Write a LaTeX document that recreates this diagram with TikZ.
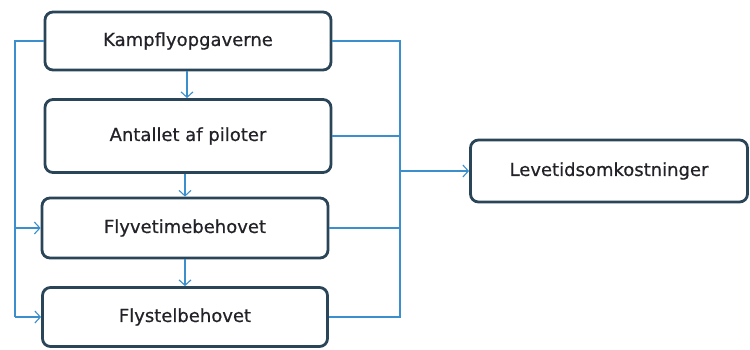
\documentclass[tikz,border=0pt]{standalone}
\usepackage{fontspec}
\newfontfamily\boxfont{DejaVu Sans}[FakeBold=0.6]
\usetikzlibrary{arrows.meta}
\definecolor{boxline}{HTML}{2A4558}
\definecolor{conn}{HTML}{3A8FCC}
\definecolor{txt}{HTML}{222228}
\tikzset{
  box/.style={draw=boxline, line width=2.8pt, rounded corners=8pt, fill=white,
    inner sep=0pt, font=\boxfont\fontsize{18}{21}\selectfont, text=txt},
  conline/.style={draw=conn, line width=1.1pt},
  arr/.style={conline, -{Straight Barb[length=5.5pt,width=12pt,line width=1.1pt]}}
}
\begin{document}
\begin{tikzpicture}[x=1pt,y=-1pt]
\useasboundingbox (0,0) rectangle (750,349);
\node[box, minimum width=286pt, minimum height=58pt] (b1) at (188,41) {Kampflyopgaverne};
\node[box, minimum width=286pt, minimum height=73pt] (b2) at (188,136) {Antallet af piloter};
\node[box, minimum width=286pt, minimum height=60pt] (b3) at (185,228) {Flyvetimebehovet};
\node[box, minimum width=285pt, minimum height=59pt] (b4) at (185,317) {Flystelbehovet};
\node[box, minimum width=277pt, minimum height=62pt] (b5) at (609,171) {Levetidsomkostninger};
\coordinate (L) at (15,0);
\coordinate (R) at (400,0);
% left feedback
\draw[conline] (b1.west) -- (L |- b1.west) -- (L |- b4.west);
\draw[arr] (L |- b4.west) -- (b4.west);
\draw[arr] (L |- b3.west) -- (b3.west);
% vertical chain
\draw[arr] (b1.south -| 187,0) -- (b2.north -| 187,0);
\draw[arr] (b2.south -| b3.north) -- (b3.north);
\draw[arr] (b3.south) -- (b4.north);
% right bus
\draw[conline] (b1.east) -- (R |- b1.east) -- (R |- b4.east) -- (b4.east);
\draw[conline] (b2.east) -- (R |- b2.east);
\draw[conline] (b3.east) -- (R |- b3.east);
\draw[arr] (R |- b5.west) -- (b5.west);
\end{tikzpicture}
\end{document}
